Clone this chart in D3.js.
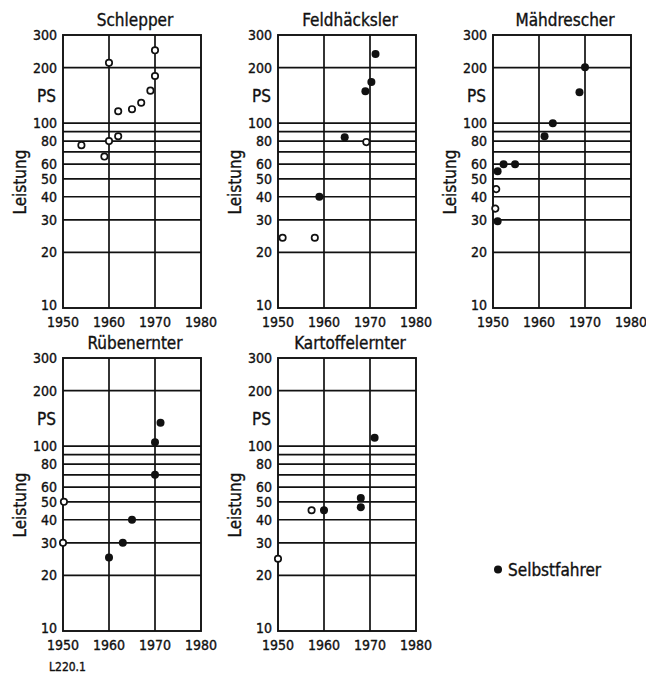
<!DOCTYPE html>
<html lang="de">
<head>
<meta charset="utf-8">
<title>Leistung</title>
<script src="https://d3js.org/d3.v7.min.js"></script>
<style>
  body { margin: 0; background: #fff; }
  svg text { font-family: "DejaVu Sans", sans-serif; font-stretch: condensed; fill: #111; stroke: #111; stroke-width: 0.35; }
  .grid line { stroke: #111; stroke-width: 1.7; }
  .frame { fill: none; stroke: #111; stroke-width: 1.9; }
</style>
</head>
<body>
<svg id="chart" width="646" height="674"></svg>
<script>
// panel titles
const titles = ["Schlepper", "Feldhäcksler", "Mähdrescher", "Rübenernter", "Kartoffelernter"];

// [year, PS] — open circles and filled dots (Selbstfahrer)
const schlepperOpen = [[1954,76],[1959,66],[1960,212],[1960,80],[1962,116],[1962,85],[1965,119],[1967,129],[1969,150],[1970,248],[1970,180]];
const schlepperFilled = [];
const haeckslerOpen = [[1951,24],[1958,24],[1969.2,79]];
const haeckslerFilled = [[1959,40],[1964.5,84],[1969,149],[1970.3,167],[1971.2,237]];
const maehdrescherOpen = [[1950.7,44],[1950.5,34.5]];
const maehdrescherFilled = [[1951,55],[1952.3,60],[1954.8,60],[1951,29.5],[1961.2,85],[1963,100],[1968.8,147],[1970,201]];
const ruebenOpen = [[1950.2,50],[1950,30]];
const ruebenFilled = [[1960,25],[1963,30],[1965,40],[1970,70],[1970,105],[1971.2,134]];
const kartoffelOpen = [[1950,24.6],[1957.3,45]];
const kartoffelFilled = [[1960,45],[1968,52.4],[1968,46.8],[1971,111]];

const openSets = [schlepperOpen, haeckslerOpen, maehdrescherOpen, ruebenOpen, kartoffelOpen];
const filledSets = [schlepperFilled, haeckslerFilled, maehdrescherFilled, ruebenFilled, kartoffelFilled];

// axes
const yLabels = [300, 200, 100, 80, 60, 50, 40, 30, 20, 10];
const yGrid = [200, 100, 90, 80, 70, 60, 50, 40, 30, 20];
const xTicks = [1950, 1960, 1970, 1980];
const xGrid = [1960, 1970];

// frame positions per panel
const lefts = [63, 278, 493, 63, 278];
const tops = [35, 35, 35, 358, 358];
const W = 138, H = 273;

const svg = d3.select("#chart");

titles.forEach(function(t, i) {
  const x = d3.scaleLinear().domain([1950, 1980]).range([0, W]);
  const y = d3.scaleLog().domain([10, 300]).range([H, 0]);

  const g = svg.append("g").attr("transform", "translate(" + lefts[i] + "," + tops[i] + ")");

  const grid = g.append("g").attr("class", "grid");
  grid.selectAll(".h").data(yGrid).enter().append("line")
    .attr("x1", 0).attr("x2", W)
    .attr("y1", d => y(d)).attr("y2", d => y(d));
  grid.selectAll(".v").data(xGrid).enter().append("line")
    .attr("y1", 0).attr("y2", H)
    .attr("x1", d => x(d)).attr("x2", d => x(d));

  g.append("rect").attr("class", "frame").attr("width", W).attr("height", H);

  // y labels
  g.selectAll(".yl").data(yLabels).enter().append("text")
    .attr("x", -6)
    .attr("y", d => d == 10 ? y(d) - 3 : y(d))
    .attr("dy", "0.36em")
    .attr("text-anchor", "end")
    .style("font-size", "14px")
    .text(d => d);

  g.append("text")
    .attr("x", -7).attr("y", y(140)).attr("dy", "0.36em")
    .attr("text-anchor", "end")
    .style("font-size", "17px")
    .text("PS");

  g.append("text")
    .attr("transform", "translate(-37," + y(48) + ") rotate(-90)")
    .attr("text-anchor", "middle")
    .style("font-size", "17px")
    .text("Leistung");

  // x labels
  g.selectAll(".xl").data(xTicks).enter().append("text")
    .attr("x", d => x(d))
    .attr("y", H + 14)
    .attr("dy", "0.36em")
    .attr("text-anchor", "middle")
    .style("font-size", "14px")
    .text(d => d);

  g.append("text")
    .attr("x", W / 2 + 3)
    .attr("y", -9)
    .attr("text-anchor", "middle")
    .style("font-size", "17px")
    .text(t);

  g.selectAll(".op").data(openSets[i]).enter().append("circle")
    .attr("cx", d => x(d[0])).attr("cy", d => y(d[1]))
    .attr("r", 3.2)
    .attr("fill", "#fff").attr("stroke", "#111").attr("stroke-width", 1.7);

  g.selectAll(".fi").data(filledSets[i]).enter().append("circle")
    .attr("cx", d => x(d[0])).attr("cy", d => y(d[1]))
    .attr("r", 4)
    .attr("fill", "#111");
});

// legend
svg.append("circle").attr("cx", 498).attr("cy", 569.5).attr("r", 4).attr("fill", "#111");
svg.append("text").attr("x", 508).attr("y", 570).attr("dy", "0.36em")
  .style("font-size", "17px").text("Selbstfahrer");

svg.append("text").attr("x", 49).attr("y", 667).attr("dy", "0.36em")
  .style("font-size", "12px").text("L220.1");
</script>
</body>
</html>
